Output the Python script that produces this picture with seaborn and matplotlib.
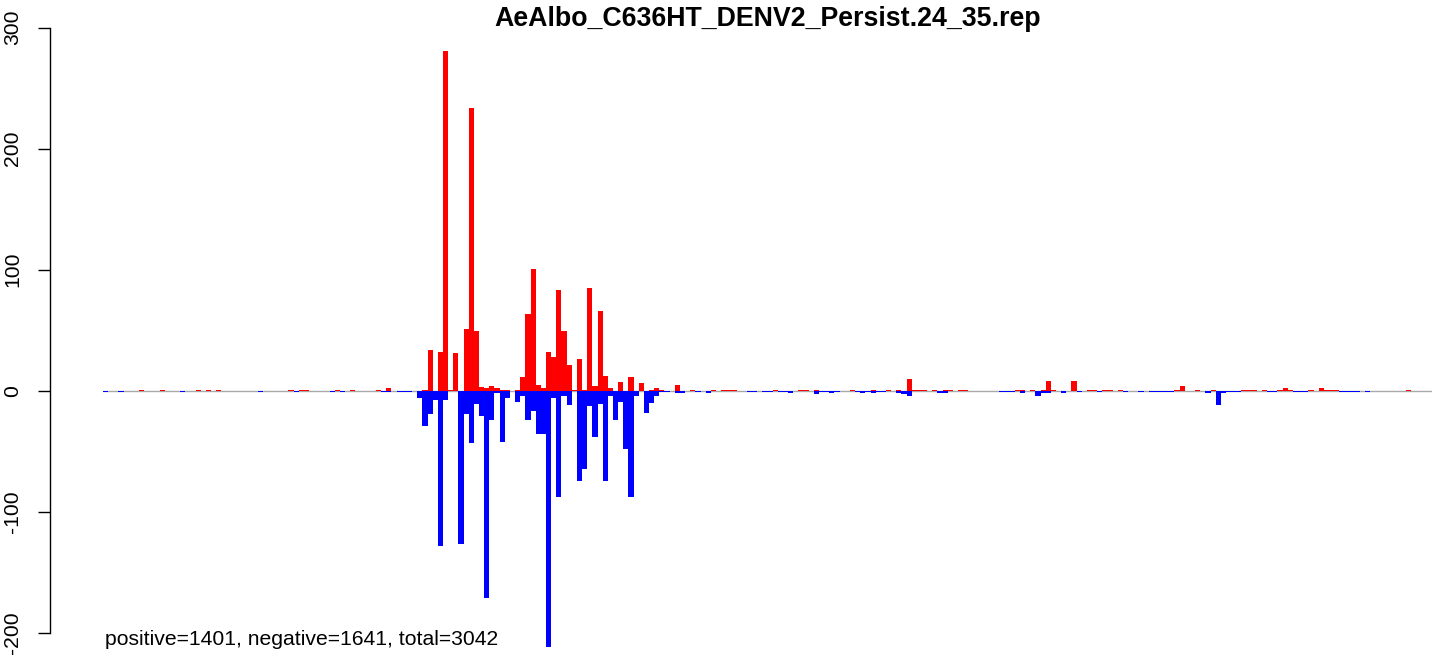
import numpy as np
import pandas as pd
import matplotlib
matplotlib.use("Agg")
import matplotlib.pyplot as plt
import seaborn as sns

title = "AeAlbo_C636HT_DENV2_Persist.24_35.rep"
summary = "positive=1401, negative=1641, total=3042"
n_bins = 258

# bins with reads on the positive strand (red, above zero)
pos_bins = [7, 11, 18, 20, 22, 36, 38, 39, 45, 48, 53, 55, 62, 63, 65, 66, 67, 68,
            70, 71, 72, 73, 74, 75, 76, 77, 78, 80, 81, 82, 83, 84, 85, 86, 87, 88,
            89, 90, 91, 92, 93, 94, 95, 96, 97, 98, 100, 102, 104, 106, 107, 108,
            111, 114, 118, 120, 121, 122, 130, 135, 136, 138, 145, 149, 152, 154,
            156, 157, 158, 159, 161, 163, 164, 166, 167, 177, 178, 180, 182, 183,
            184, 188, 191, 192, 194, 195, 197, 208, 209, 212, 215, 221, 222, 223,
            225, 228, 229, 230, 234, 236, 237, 238, 239, 253]
pos_counts = [1, 1, 1, 1, 1, 1, 1, 1, 1, 1, 1, 2, 1, 34, 32, 281, 1, 31,
              51, 234, 49, 3, 2, 4, 2, 1, 1, 1, 11, 63, 101, 5, 2, 32, 28, 83,
              49, 21, 1, 26, 1, 85, 4, 66, 12, 2, 7, 11, 6, 1, 2, 1,
              5, 1, 1, 1, 1, 1, 1, 1, 1, 1, 1, 1, 1, 1,
              10, 1, 1, 1, 1, 1, 1, 1, 1, 1, 1, 1, 1, 8,
              1, 8, 1, 1, 1, 1, 1, 1, 4, 1, 1, 1, 1, 1,
              1, 1, 2, 1, 1, 2, 1, 1, 1, 1]

# bins with reads on the negative strand (blue, below zero)
neg_bins = [0, 3, 15, 30, 37, 44, 46, 54, 55, 57, 58, 59, 61, 62, 63, 64, 65, 66,
            69, 70, 71, 72, 73, 74, 75, 76, 77, 78, 80, 81, 82, 83, 84, 85, 86, 87,
            88, 89, 90, 92, 93, 94, 95, 96, 97, 98, 99, 100, 101, 102, 103, 105,
            106, 107, 108, 109, 111, 112, 115, 117, 125, 126, 128, 129, 131, 132,
            133, 138, 139, 140, 141, 142, 146, 147, 148, 149, 150, 151, 154, 155,
            156, 162, 163, 174, 175, 176, 178, 181, 182, 183, 186, 189, 193, 198,
            201, 203, 204, 205, 206, 207, 214, 216, 217, 218, 219, 220, 226, 227,
            231, 232, 233, 240, 241, 242, 243, 245]
neg_counts = [1, 1, 1, 1, 1, 1, 1, 1, 1, 1, 1, 1, 6, 29, 19, 8, 128, 8,
              127, 19, 43, 11, 21, 171, 24, 2, 42, 6, 9, 4, 24, 17, 36, 36, 212, 6,
              88, 4, 12, 75, 65, 13, 38, 11, 75, 4, 24, 9, 48, 88, 4, 18,
              10, 4, 1, 1, 2, 2, 1, 2, 1, 1, 1, 1, 1, 1,
              2, 3, 1, 1, 2, 1, 1, 2, 1, 2, 1, 1, 2, 3,
              4, 2, 2, 1, 1, 1, 2, 4, 2, 2, 2, 1, 1, 1,
              1, 1, 1, 1, 1, 1, 2, 12, 2, 1, 1, 1, 1, 1,
              1, 1, 1, 1, 1, 1, 1, 1]

y_ticks = [-200, -100, 0, 100, 200, 300]


def build_profile(bins, counts):
    """Coloca as contagens lidas em cada bin."""
    values = np.zeros(n_bins)
    values[bins] = counts
    return values


def main():
    df = pd.DataFrame({
        "bin": np.arange(n_bins),
        "pos": build_profile(pos_bins, pos_counts),
        "neg": -build_profile(neg_bins, neg_counts),
    })

    sns.set_style("white")
    plt.rcParams["font.family"] = ["Liberation Sans", "DejaVu Sans"]
    plt.rcParams["axes.unicode_minus"] = False
    plt.rcParams["text.color"] = "black"

    fig = plt.figure(figsize=(14.44, 6.59), dpi=100)
    ax = fig.add_axes([103 / 1444, 0.0105, 1329 / 1444, 0.9566])

    ax.axhline(0, color="#A9A9A9", lw=1.0, zorder=0)
    sns.barplot(data=df, x="bin", y="pos", color="#FF0000", width=1,
                linewidth=0, saturation=1, errorbar=None, ax=ax)
    sns.barplot(data=df, x="bin", y="neg", color="#0000FF", width=1,
                linewidth=0, saturation=1, errorbar=None, ax=ax)
    for p in ax.patches:
        p.set_antialiased(False)

    ax.set_ylim(-216, 305)
    ax.set_xlim(-0.5, n_bins - 0.5)
    ax.set_xticks([])
    ax.set_xlabel("")
    ax.set_ylabel("")
    ax.set_yticks(y_ticks)
    ax.set_yticklabels([str(t) for t in y_ticks])

    for side in ["top", "right", "bottom"]:
        ax.spines[side].set_visible(False)
    ax.spines["left"].set_position(("outward", 38.2))
    ax.spines["left"].set_bounds(-200, 300)
    ax.spines["left"].set_color("black")
    ax.spines["left"].set_linewidth(1.0)
    ax.tick_params(axis="y", direction="out", length=8.6, width=1.0,
                   pad=11.5, labelsize=15.2, colors="black", left=True)
    for lbl in ax.get_yticklabels():
        lbl.set_rotation(90)
        lbl.set_va("center")

    fig.text(767.5 / 1444, 1 - 26 / 659, title, ha="center", va="baseline",
             fontsize=19.3, fontweight="bold", color="black")
    fig.text(105 / 1444, 1 - 645 / 659, summary, ha="left", va="baseline",
             fontsize=15.2, color="black")

    fig.savefig("out.png", dpi=100)
    plt.close(fig)


if __name__ == "__main__":
    main()
